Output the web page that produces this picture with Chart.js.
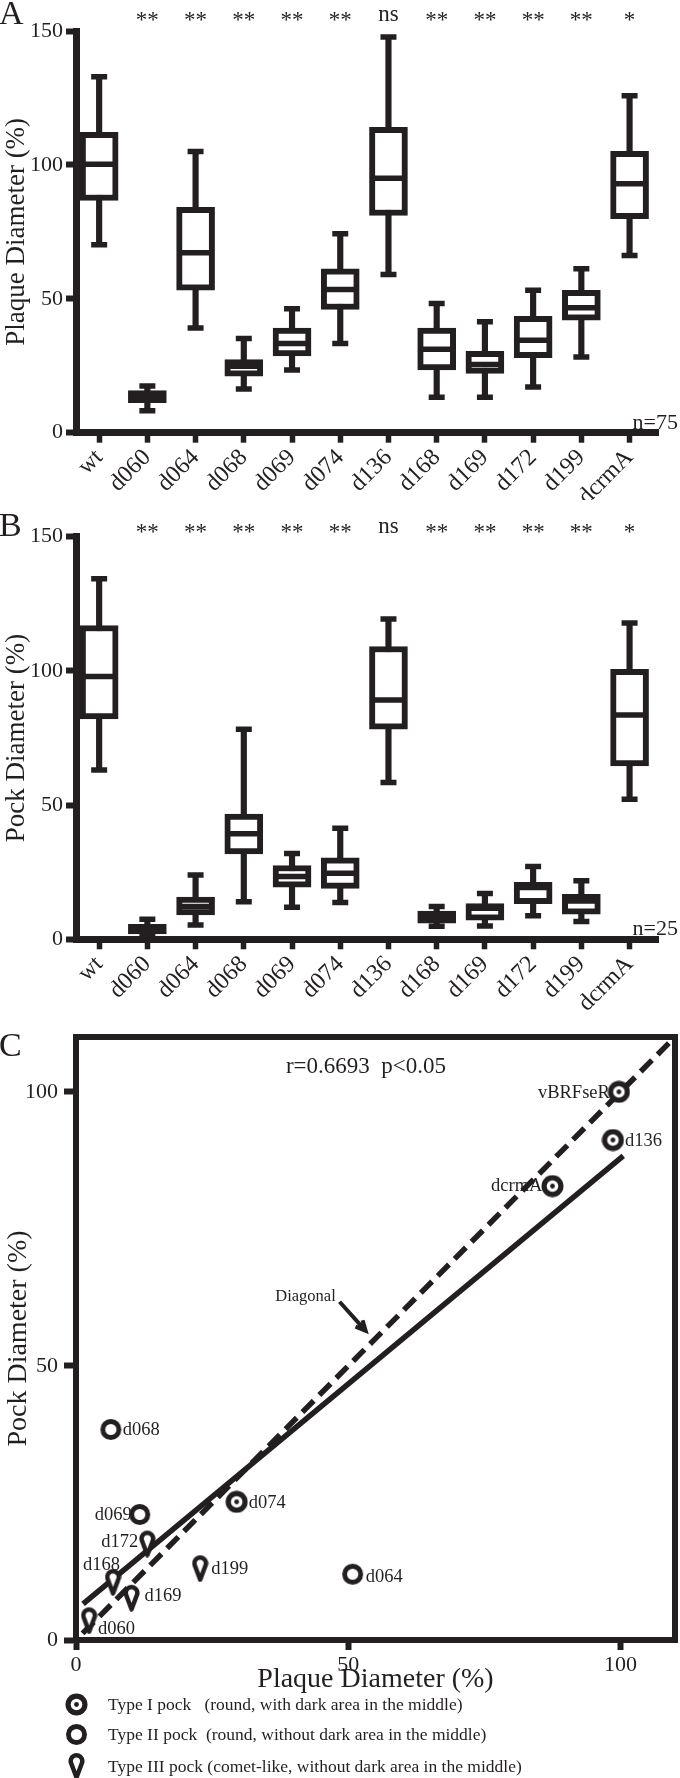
<!DOCTYPE html>
<html>
<head>
<meta charset="utf-8">
<script src="https://cdn.jsdelivr.net/npm/chart.js@4.4.1/dist/chart.umd.min.js"></script>
<style>
html,body{margin:0;padding:0;background:#fff;}
body{position:relative;width:680px;height:1778px;overflow:hidden;font-family:'Liberation Serif','Times New Roman',serif;color:#231f20;}
canvas.chart{position:absolute;left:0;}
.leg{position:absolute;left:108px;font-size:17.5px;line-height:22px;white-space:pre;}
.icon{position:absolute;}
</style>
</head>
<body>
<canvas id="cA" class="chart" width="680" height="500" style="top:0"></canvas>
<canvas id="cB" class="chart" width="680" height="510" style="top:500px"></canvas>
<canvas id="cC" class="chart" width="680" height="768" style="top:1010px"></canvas>
<div id="legend"></div>
<script>
const INK = '#231f20';
const SERIF = "'Liberation Serif','Times New Roman',serif";

// strains (x categories) and significance marks above each box
const CATS = ['wt','d060','d064','d068','d069','d074','d136','d168','d169','d172','d199','dcrmA'];
const SIG  = ['','**','**','**','**','**','ns','**','**','**','**','*'];
const BOX_TICKS = [0, 50, 100, 150];

// A: plaque diameter (%), box plots
const A_MIN = [70.2, 8.2, 39.1, 16.3, 23.4, 33.3, 59.1, 13.2, 13.2, 17.1, 28.3, 66.2];
const A_Q1  = [86.7, 11.2, 53.2, 21.1, 28.7, 46.0, 81.1, 23.4, 22.1, 28.0, 42.0, 79.9];
const A_MED = [100.2, 13.4, 67.2, 24.8, 33.3, 53.5, 95.0, 31.2, 25.5, 34.5, 46.7, 93.0];
const A_Q3  = [112.2, 15.7, 84.2, 27.3, 39.1, 61.2, 114.0, 39.1, 30.4, 43.5, 53.2, 105.1];
const A_MAX = [132.9, 17.4, 105.0, 35.2, 46.3, 74.3, 147.8, 48.2, 41.4, 53.2, 61.2, 125.8];

// B: pock diameter (%), box plots
const B_MIN = [63.1, 1.2, 5.3, 14.0, 11.9, 13.7, 58.4, 4.9, 5.0, 8.8, 6.6, 52.2];
const B_Q1  = [82.1, 2.0, 9.1, 31.8, 19.4, 19.0, 78.3, 6.0, 7.1, 13.3, 9.4, 64.6];
const B_MED = [97.9, 3.8, 12.2, 39.3, 23.4, 24.6, 89.2, 8.3, 11.6, 19.3, 14.3, 83.6];
const B_Q3  = [116.9, 5.6, 15.7, 46.7, 27.5, 30.4, 109.1, 10.5, 13.3, 21.2, 16.8, 100.6];
const B_MAX = [134.3, 7.5, 24.0, 78.3, 32.0, 41.4, 119.3, 12.2, 17.1, 27.1, 21.8, 117.8];

// C: plaque vs pock diameter, pock type 1/2/3
const C_NAMES  = ['vBRFseR','d136','dcrmA','d074','d068','d069','d172','d168','d169','d199','d064','d060'];
const C_PLAQUE = [99.7, 98.6, 87.5, 29.5, 6.4, 11.7, 13.1, 6.8, 10.2, 22.8, 50.8, 2.4];
const C_POCK   = [100.0, 91.2, 82.8, 25.2, 38.4, 22.9, 17.6, 10.6, 7.7, 13.1, 12.0, 3.6];
const C_TYPE   = [1, 1, 1, 1, 2, 2, 3, 3, 3, 3, 2, 3];
const C_TICKS  = [0, 50, 100];
const DIAG_X = [1.2, 110], DIAG_Y = [1.2, 110];
const FIT_X  = [1.3, 100.5], FIT_Y = [6.6, 88.3];

const LEGEND = [
  'Type I pock   (round, with dark area in the middle)',
  'Type II pock  (round, without dark area in the middle)',
  'Type III pock (comet-like, without dark area in the middle)'
];

// label placement for panel C: [dx, dy, align]
const C_LABEL = {
  vBRFseR:[-9,0,'right'], d136:[12,0,'left'], dcrmA:[-10,-1,'right'], d074:[12,0,'left'],
  d068:[12,0,'left'], d069:[-8,0,'right'], d172:[-9,-2,'right'], d168:[7,-18,'right'],
  d169:[13,-3,'left'], d199:[11,0,'left'], d064:[13,2,'left'], d060:[9,8,'left']
};

function marker(type){
  const c = document.createElement('canvas');
  if (type === 3) { c.width = 17; c.height = 28; } else { c.width = 23; c.height = 23; }
  const ctx = c.getContext('2d');
  if (type === 3) {
    const cx = 8.5, cy = 9, r = 5.8, tip = 25.5;
    const th = Math.asin(r / (tip - cy));
    ctx.beginPath();
    ctx.moveTo(cx, tip);
    ctx.lineTo(cx + r*Math.cos(th), cy + r*Math.sin(th));
    ctx.arc(cx, cy, r, th, Math.PI - th, true);
    ctx.closePath();
    ctx.fillStyle = '#fff'; ctx.fill();
    ctx.lineWidth = 4.5; ctx.lineJoin = 'round'; ctx.strokeStyle = INK; ctx.stroke();
  } else {
    const disc = (r, col) => { ctx.beginPath(); ctx.arc(11.5, 11.5, r, 0, Math.PI*2); ctx.fillStyle = col; ctx.fill(); };
    disc(type === 1 ? 11 : 10.5, INK);
    disc(type === 1 ? 5.8 : 5.6, '#fff');
    if (type === 1) disc(2.4, INK);
  }
  return c;
}
const MARKERS = {1: marker(1), 2: marker(2), 3: marker(3)};

const deco = {
  id: 'deco',
  afterDraw(chart, args, o) {
    const {ctx, chartArea: ca, scales: {x}} = chart;
    ctx.save();
    ctx.fillStyle = INK;
    ctx.textBaseline = 'alphabetic';
    ctx.textAlign = 'center';
    ctx.font = '23px ' + SERIF;
    SIG.forEach((s, i) => {
      if (!s) return;
      ctx.fillText(s, x.getPixelForValue(i), o.sigY + (s.includes('*') ? o.starDrop : 0));
    });
    ctx.font = '22px ' + SERIF;
    ctx.textAlign = 'right';
    ctx.fillText(o.n, 678, ca.bottom - 4);
    ctx.textAlign = 'left';
    ctx.font = '34px ' + SERIF;
    ctx.fillText(o.letter, -1, o.letterY);
    ctx.restore();
  }
};

function boxChart(id, mins, q1, med, q3, maxs, o) {
  const pts = a => a.map((v, i) => ({x: i, y: v}));
  const rng = (a, b) => a.map((v, i) => ({x: i, y: [v, b[i]]}));
  return new Chart(document.getElementById(id), {
    type: 'bar',
    data: {datasets: [
      {type: 'bar', data: rng(mins, maxs), backgroundColor: INK, borderWidth: 0, barThickness: 5.5, grouped: false, order: 4},
      {type: 'scatter', data: pts(mins).concat(pts(maxs)), pointStyle: 'line', pointRadius: 8, pointBorderWidth: 5.5, pointBorderColor: INK, order: 3},
      {type: 'bar', data: rng(q1, q3), grouped: false, order: 2, barThickness: 38,
       backgroundColor: c => (q3[c.dataIndex] - q1[c.dataIndex] < 6 ? INK : '#fff'),
       borderColor: INK, borderWidth: 6, borderSkipped: false},
      {type: 'scatter', data: pts(med), pointStyle: 'line', pointRadius: 16, pointBorderWidth: 5.5, pointBorderColor: INK, order: 1}
    ]},
    options: {
      responsive: false, animation: false, devicePixelRatio: 1, events: [],
      layout: {padding: {top: o.top, left: 0, right: 0, bottom: 0}},
      plugins: {legend: {display: false}, tooltip: {enabled: false}, deco: o},
      scales: {
        x: {type: 'linear', min: -0.48, max: 11.6, offset: false,
            afterBuildTicks: s => { s.ticks = CATS.map((c, i) => ({value: i})); },
            afterFit: s => { s.height = o.xh; },
            grid: {drawOnChartArea: false, offset: false, tickLength: 10, tickWidth: 5.5, tickColor: INK},
            border: {color: INK, width: 7},
            ticks: {autoSkip: false, minRotation: 45, maxRotation: 45, padding: 1, color: INK,
                    font: {family: SERIF, size: 24}, callback: v => CATS[v]}},
        y: {min: 0, max: 150,
            afterBuildTicks: s => { s.ticks = BOX_TICKS.map(v => ({value: v})); },
            afterFit: s => { s.width = 76; },
            grid: {drawOnChartArea: false, tickLength: 10, tickWidth: 6, tickColor: INK},
            border: {color: INK, width: 7},
            ticks: {padding: 3, color: INK, font: {family: SERIF, size: 22}},
            title: {display: true, text: o.title, color: INK, font: {family: SERIF, size: 27}, padding: {top: 1, bottom: 0}}}
      }
    },
    plugins: [deco]
  });
}

boxChart('cA', A_MIN, A_Q1, A_MED, A_Q3, A_MAX,
  {top: 31, xh: 67.3, title: 'Plaque Diameter (%)', sigY: 20.7, starDrop: 6, n: 'n=75', letter: 'A', letterY: 24});
boxChart('cB', B_MIN, B_Q1, B_MED, B_Q3, B_MAX,
  {top: 36.7, xh: 70.7, title: 'Pock Diameter (%)', sigY: 32.7, starDrop: 6, n: 'n=25', letter: 'B', letterY: 36});

const scatterDeco = {
  id: 'scatterDeco',
  beforeDatasetsDraw(chart) {
    const {ctx, chartArea: ca} = chart;
    ctx.save();
    ctx.strokeStyle = INK; ctx.lineWidth = 6;
    ctx.beginPath();
    ctx.moveTo(ca.left - 3, ca.top); ctx.lineTo(ca.right, ca.top); ctx.lineTo(ca.right, ca.bottom + 3);
    ctx.stroke();
    ctx.restore();
  },
  afterDraw(chart) {
    const {ctx, scales: {x, y}} = chart;
    const meta = chart.getDatasetMeta(2);
    ctx.save();
    ctx.fillStyle = INK;
    ctx.textBaseline = 'middle';
    ctx.font = '18.5px ' + SERIF;
    meta.data.forEach((pt, i) => {
      const [dx, dy, al] = C_LABEL[C_NAMES[i]];
      ctx.textAlign = al;
      ctx.fillText(C_NAMES[i], pt.x + dx, pt.y + dy + 1);
    });
    ctx.textAlign = 'center';
    ctx.textBaseline = 'alphabetic';
    ctx.font = '23px ' + SERIF;
    ctx.fillText('r=0.6693  p<0.05', 366, 63);
    // "Diagonal" note with arrow
    ctx.font = '16.5px ' + SERIF;
    ctx.textAlign = 'right';
    ctx.textBaseline = 'middle';
    ctx.fillText('Diagonal', x.getPixelForValue(47.7), y.getPixelForValue(62.6));
    const x0 = x.getPixelForValue(48.4), y0 = y.getPixelForValue(61.7);
    const x1 = x.getPixelForValue(53.2), y1 = y.getPixelForValue(56.4);
    const ang = Math.atan2(y1 - y0, x1 - x0);
    ctx.strokeStyle = INK; ctx.lineWidth = 4;
    ctx.beginPath(); ctx.moveTo(x0, y0); ctx.lineTo(x1, y1);
    ctx.moveTo(x1 + 11*Math.cos(ang + Math.PI - 0.45), y1 + 11*Math.sin(ang + Math.PI - 0.45));
    ctx.lineTo(x1, y1);
    ctx.lineTo(x1 + 11*Math.cos(ang + Math.PI + 0.45), y1 + 11*Math.sin(ang + Math.PI + 0.45));
    ctx.stroke();
    ctx.textAlign = 'left';
    ctx.textBaseline = 'alphabetic';
    ctx.font = '34px ' + SERIF;
    ctx.fillText('C', -1, 46);
    ctx.restore();
  }
};

const xy = (xs, ys) => xs.map((v, i) => ({x: v, y: ys[i]}));
new Chart(document.getElementById('cC'), {
  type: 'scatter',
  data: {datasets: [
    {type: 'line', data: xy(DIAG_X, DIAG_Y), borderColor: INK, borderWidth: 5.5, borderDash: [16, 8], pointRadius: 0, order: 3},
    {type: 'line', data: xy(FIT_X, FIT_Y), borderColor: INK, borderWidth: 5.5, pointRadius: 0, order: 2},
    {data: xy(C_PLAQUE, C_POCK), pointStyle: c => MARKERS[C_TYPE[c.dataIndex]], order: 1}
  ]},
  options: {
    responsive: false, animation: false, devicePixelRatio: 1, events: [],
    layout: {padding: {top: 27, left: 0, right: 4, bottom: 82}},
    plugins: {legend: {display: false}, tooltip: {enabled: false}},
    scales: {
      x: {type: 'linear', min: 0, max: 110,
          afterBuildTicks: s => { s.ticks = C_TICKS.map(v => ({value: v})); },
          afterFit: s => { s.height = 56; },
          grid: {drawOnChartArea: false, tickLength: 10, tickWidth: 6, tickColor: INK},
          border: {color: INK, width: 6},
          ticks: {padding: 2, color: INK, font: {family: SERIF, size: 22}},
          title: {display: true, text: 'Plaque Diameter (%)', color: INK, font: {family: SERIF, size: 28}, padding: {top: 0, bottom: 0}}},
      y: {min: 0, max: 110,
          afterBuildTicks: s => { s.ticks = C_TICKS.map(v => ({value: v})); },
          afterFit: s => { s.width = 76; },
          grid: {drawOnChartArea: false, tickLength: 12, tickWidth: 6, tickColor: INK},
          border: {color: INK, width: 6},
          ticks: {padding: 6, color: INK, font: {family: SERIF, size: 22}},
          title: {display: true, text: 'Pock Diameter (%)', color: INK, font: {family: SERIF, size: 28}, padding: {top: 2, bottom: 0}}}
    }
  },
  plugins: [scatterDeco]
});

// legend under panel C
const legend = document.getElementById('legend');
const ROW_Y = [1704, 1734, 1766];
LEGEND.forEach((t, i) => {
  const ic = marker(i + 1);
  ic.className = 'icon';
  ic.style.left = (76 - ic.width / 2) + 'px';
  ic.style.top = (ROW_Y[i] - ic.height / 2) + 'px';
  legend.appendChild(ic);
  const d = document.createElement('div');
  d.className = 'leg';
  d.style.top = (ROW_Y[i] - 11) + 'px';
  d.textContent = t;
  legend.appendChild(d);
});
</script>
</body>
</html>
